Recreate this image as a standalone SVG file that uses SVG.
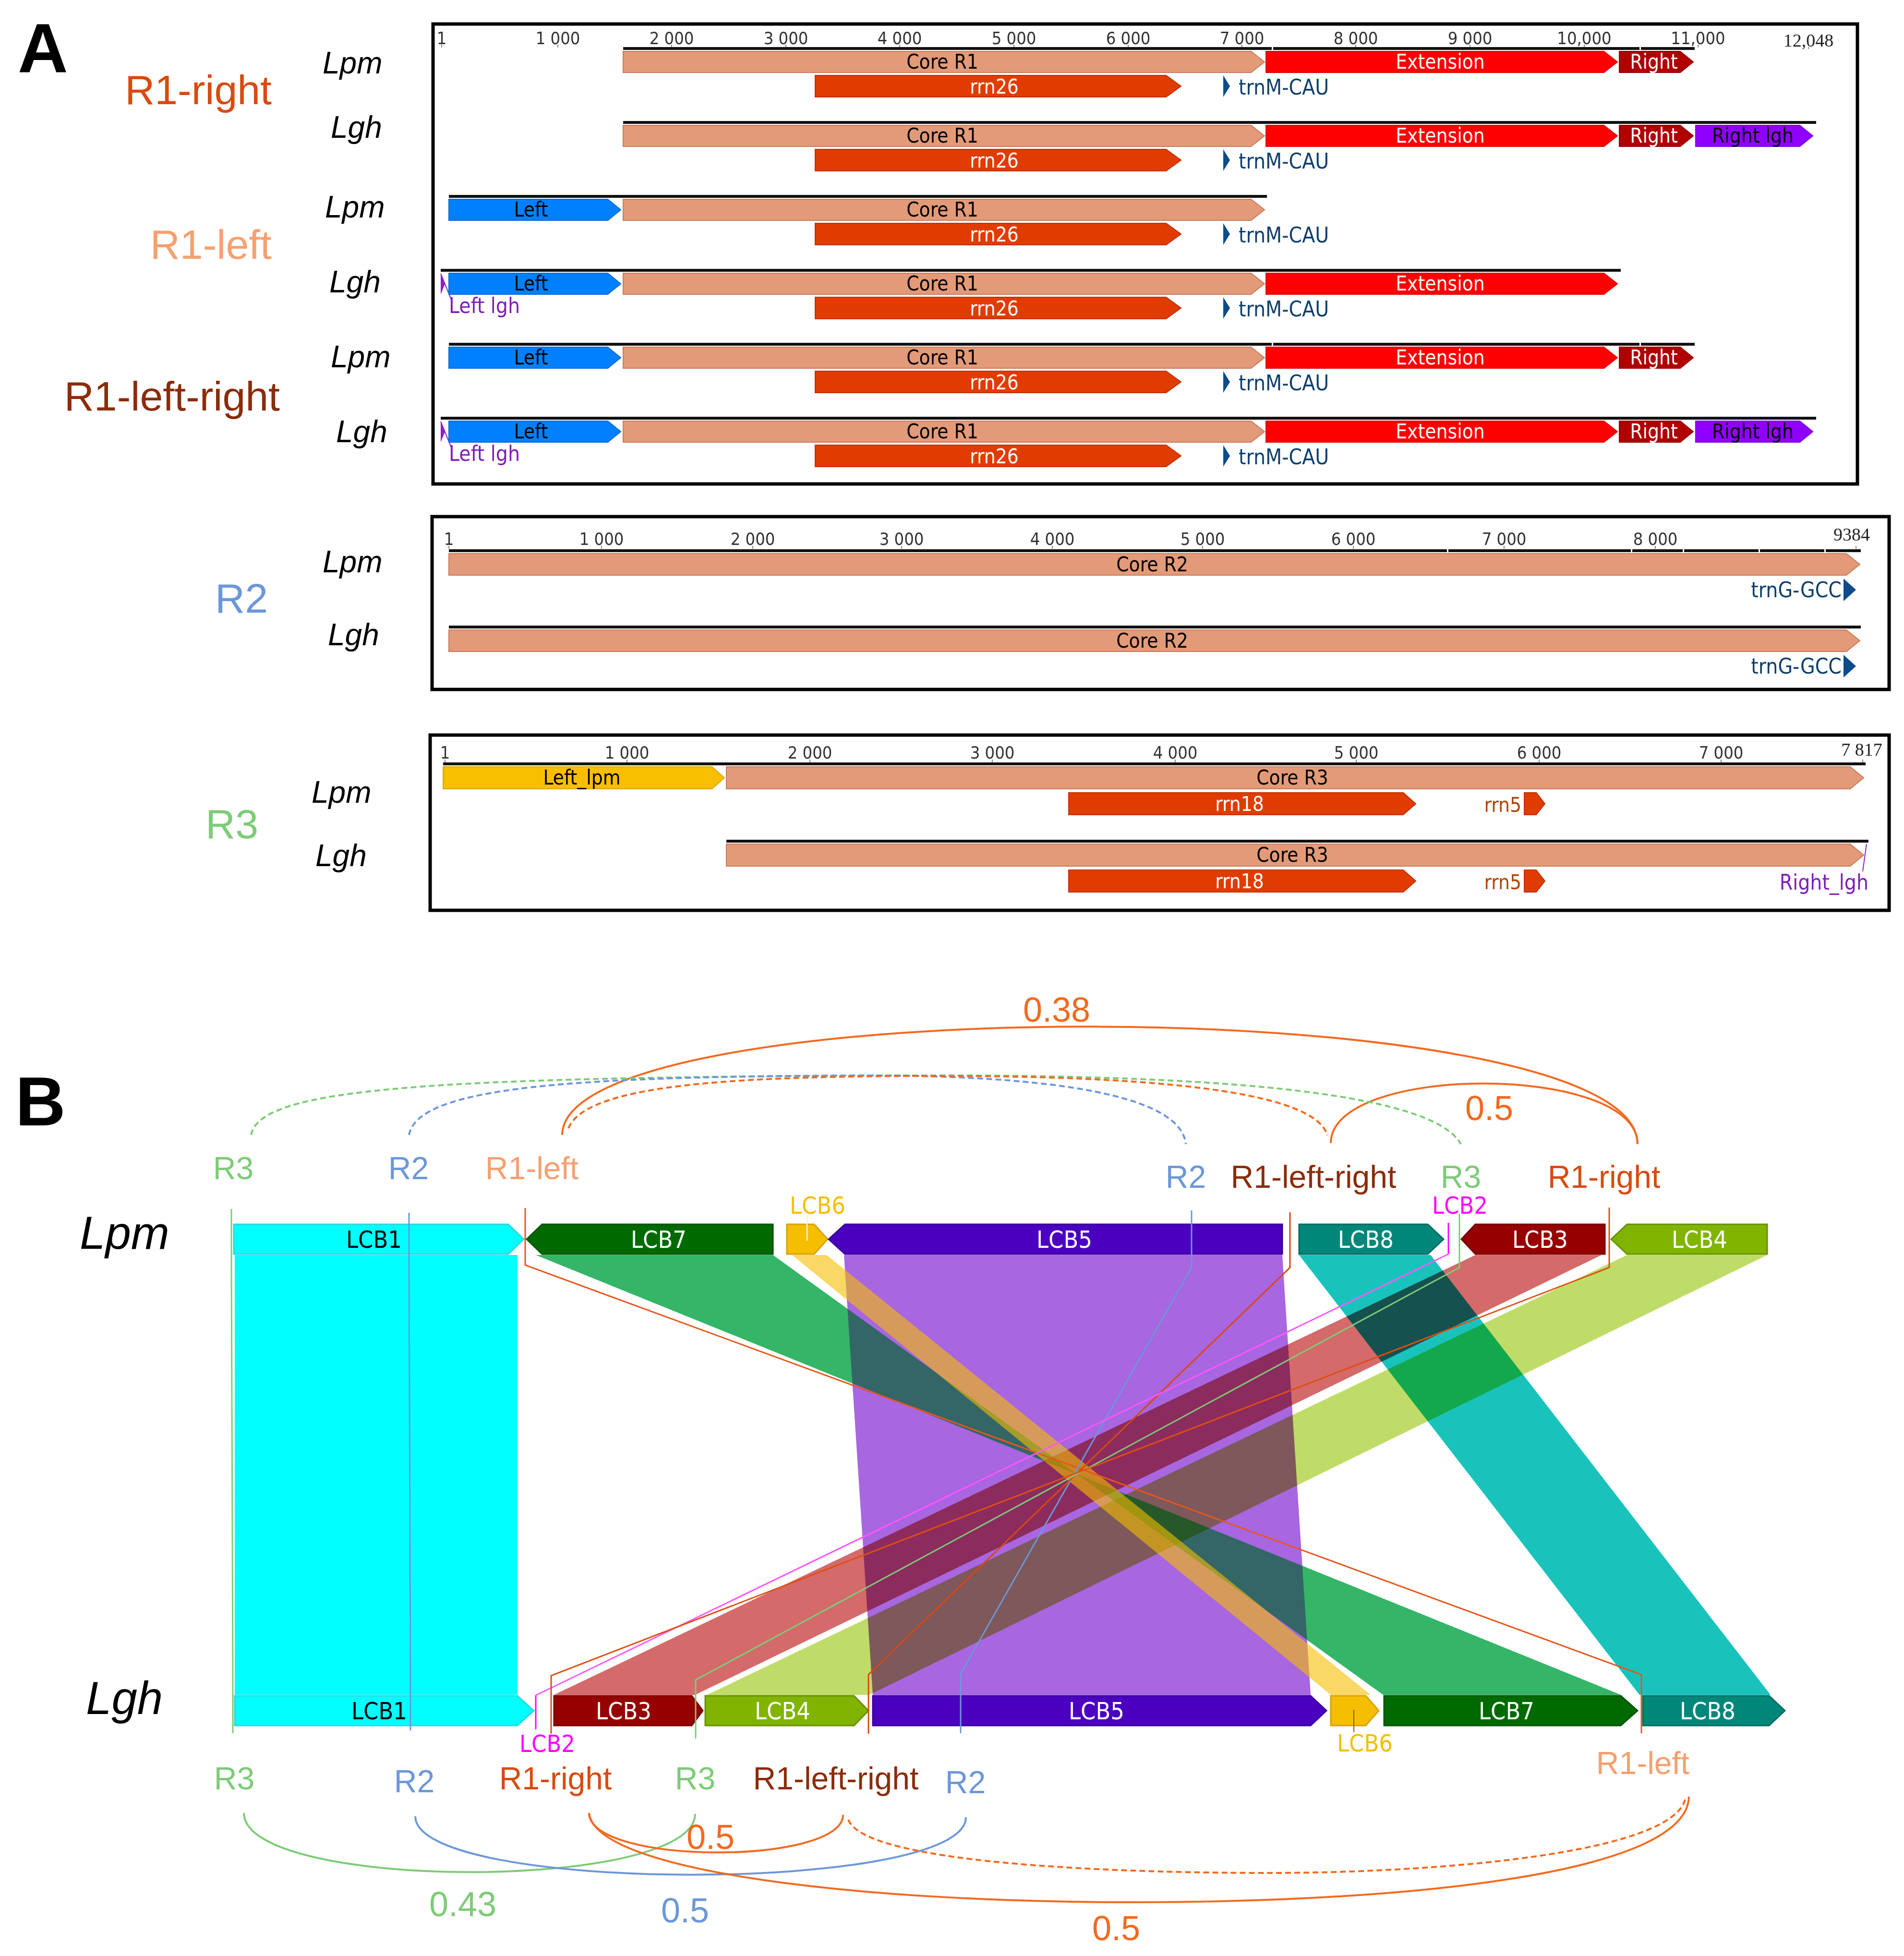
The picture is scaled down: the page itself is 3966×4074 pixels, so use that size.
<svg xmlns="http://www.w3.org/2000/svg" width="3966" height="4074" viewBox="0 0 3966 4074">
<style>
.box{fill:none;stroke:#000;stroke-width:7}
.trk{stroke:#111;stroke-width:6;fill:none}
.rul{font-family:"DejaVu Sans Condensed","DejaVu Sans",sans-serif;font-stretch:condensed;font-size:36px;fill:#333;text-anchor:middle}
.tick{stroke:#888;stroke-width:2}
.fl{font-family:"DejaVu Sans Condensed","DejaVu Sans",sans-serif;font-stretch:condensed;font-size:42px;text-anchor:middle}
.w{fill:#fff}.k{fill:#000}
.core{fill:#E39A78;stroke:#C77A5A;stroke-width:2}
.rrn{fill:#E03C00;stroke:#C23000;stroke-width:2}
.ext{fill:#FF0000;stroke:#E00000;stroke-width:2}
.rgt{fill:#B00000;stroke:#960000;stroke-width:2}
.rlg{fill:#9000FF;stroke:#7A00DD;stroke-width:2}
.lft{fill:#0080FF;stroke:#0068D8;stroke-width:2}
.llpm{fill:#F8BF00;stroke:#D9A400;stroke-width:2}
.trna{fill:#0D4B8A}
.trnt{font-family:"DejaVu Sans Condensed","DejaVu Sans",sans-serif;font-stretch:condensed;font-size:44px;fill:#0D3F6E}
.pur{font-family:"DejaVu Sans Condensed","DejaVu Sans",sans-serif;font-stretch:condensed;font-size:44px;fill:#7F1FB5}
.sp{font-family:"Liberation Sans",Arial,sans-serif;font-style:italic;font-size:64px;fill:#000}
.spb{font-family:"Liberation Sans",Arial,sans-serif;font-style:italic;font-size:96px;fill:#000}
.reg{font-family:"Liberation Sans",Arial,sans-serif;font-size:86px}
.big{font-family:"Liberation Sans",Arial,sans-serif;font-weight:bold;font-size:145px;fill:#000}
.lb{font-family:"Liberation Sans",Arial,sans-serif;font-size:66px;text-anchor:middle}
.num{font-family:"Liberation Sans",Arial,sans-serif;font-size:72px;text-anchor:middle}
.lcb{font-family:"DejaVu Sans Condensed","DejaVu Sans",sans-serif;font-stretch:condensed;font-size:50px;text-anchor:middle}
.band{mix-blend-mode:multiply}
.bandd{mix-blend-mode:darken}
.cR1r{fill:#D84B0F}.cR1l{fill:#F6A070}.cR1lr{fill:#8B2C0A}.cR2{fill:#6C97DA}.cR3{fill:#7ECB78}.cOr{fill:#F26A1F}.cMag{fill:#FF00FF}.cY{fill:#F5BE00}
.arc{fill:none;stroke-width:4}
.dash{stroke-dasharray:12 7}
.con{fill:none;stroke-width:3}
</style>

<!-- ================= PANEL A ================= -->
<g id="panelA-labels">
<text class="big" x="37" y="150">A</text>
<text class="reg cR1r" x="566" y="217" text-anchor="end">R1-right</text>
<text class="reg cR1l" x="566" y="539" text-anchor="end">R1-left</text>
<text class="reg cR1lr" x="583" y="855" text-anchor="end">R1-left-right</text>
<text class="reg cR2" x="503" y="1276" text-anchor="middle" font-size="80">R2</text>
<text class="reg cR3" x="483" y="1746" text-anchor="middle" font-size="80">R3</text>
<text class="sp" x="672" y="153">Lpm</text>
<text class="sp" x="689" y="287">Lgh</text>
<text class="sp" x="677" y="453">Lpm</text>
<text class="sp" x="686" y="609">Lgh</text>
<text class="sp" x="689" y="765">Lpm</text>
<text class="sp" x="700" y="921">Lgh</text>
<text class="sp" x="672" y="1192">Lpm</text>
<text class="sp" x="683" y="1344">Lgh</text>
<text class="sp" x="649" y="1672">Lpm</text>
<text class="sp" x="657" y="1804">Lgh</text>
</g>

<!-- R1 box -->
<g id="boxR1">
<rect class="box" x="902" y="50" width="2967" height="958"/>
<g id="rulerR1">
<text class="rul" x="920" y="92">1</text>
<text class="rul" x="1162" y="92">1 000</text>
<text class="rul" x="1399" y="92">2 000</text>
<text class="rul" x="1637" y="92">3 000</text>
<text class="rul" x="1874" y="92">4 000</text>
<text class="rul" x="2112" y="92">5 000</text>
<text class="rul" x="2350" y="92">6 000</text>
<text class="rul" x="2587" y="92">7 000</text>
<text class="rul" x="2824" y="92">8 000</text>
<text class="rul" x="3062" y="92">9 000</text>
<text class="rul" x="3300" y="92">10,000</text>
<text class="rul" x="3537" y="92">11,000</text>
<text x="3767" y="97" font-family="Liberation Serif,serif" font-size="38" fill="#222" text-anchor="middle">12,048</text>
<path class="tick" d="M920,93v6M1162,93v6M1399,93v6M1637,93v6M1874,93v6M2112,93v6M2350,93v6M2587,93v6M2824,93v6M3062,93v6M3300,93v6M3537,93v6M3767,98v4"/>
</g>
<!-- track lines -->
<line class="trk" x1="1298" y1="101" x2="3530" y2="101"/>
<line class="trk" x1="1298" y1="255" x2="3783" y2="255"/>
<line class="trk" x1="935" y1="409" x2="2639" y2="409"/>
<line class="trk" x1="918" y1="563" x2="3376" y2="563"/>
<line class="trk" x1="935" y1="717" x2="3530" y2="717"/>
<line class="trk" x1="918" y1="871" x2="3783" y2="871"/>
<g fill="#fff"><rect x="2649" y="96" width="3" height="10"/><rect x="3415" y="96" width="3" height="10"/><rect x="2649" y="712" width="3" height="10"/><rect x="3415" y="712" width="3" height="10"/></g>

<!-- Track 1: Lpm R1-right -->
<g id="t1">
<polygon class="core" points="1298,107 2606,107 2634,129 2606,151 1298,151"/>
<text class="fl k" x="1963" y="143">Core R1</text>
<polygon class="ext" points="2637,107 3341,107 3369,129 3341,151 2637,151"/>
<text class="fl w" x="3000" y="143">Extension</text>
<polygon class="rgt" points="3373,107 3500,107 3527,129 3500,151 3373,151"/>
<text class="fl w" x="3445" y="143">Right</text>
<polygon class="rrn" points="1698,157 2429,157 2460,179.5 2429,202 1698,202"/>
<text class="fl w" x="2071" y="195">rrn26</text>
<polygon class="trna" points="2548,157 2562,179.5 2548,202"/>
<text class="trnt" x="2580" y="197">trnM-CAU</text>
</g>
<!-- Track 2: Lgh R1-right -->
<g id="t2">
<polygon class="core" points="1298,261 2606,261 2634,283 2606,305 1298,305"/>
<text class="fl k" x="1963" y="297">Core R1</text>
<polygon class="ext" points="2637,261 3341,261 3369,283 3341,305 2637,305"/>
<text class="fl w" x="3000" y="297">Extension</text>
<polygon class="rgt" points="3373,261 3500,261 3527,283 3500,305 3373,305"/>
<text class="fl w" x="3445" y="297">Right</text>
<polygon class="rlg" points="3532,261 3749,261 3776,283 3749,305 3532,305"/>
<text class="fl k" x="3651" y="297">Right lgh</text>
<polygon class="rrn" points="1698,311 2429,311 2460,333.5 2429,356 1698,356"/>
<text class="fl w" x="2071" y="349">rrn26</text>
<polygon class="trna" points="2548,311 2562,333.5 2548,356"/>
<text class="trnt" x="2580" y="351">trnM-CAU</text>
</g>
<!-- Track 3: Lpm R1-left -->
<g id="t3">
<polygon class="lft" points="935,415 1266,415 1293,437 1266,459 935,459"/>
<text class="fl k" x="1106" y="451">Left</text>
<polygon class="core" points="1298,415 2606,415 2634,437 2606,459 1298,459"/>
<text class="fl k" x="1963" y="451">Core R1</text>
<polygon class="rrn" points="1698,465 2429,465 2460,487.5 2429,510 1698,510"/>
<text class="fl w" x="2071" y="503">rrn26</text>
<polygon class="trna" points="2548,465 2562,487.5 2548,510"/>
<text class="trnt" x="2580" y="505">trnM-CAU</text>
</g>
<!-- Track 4: Lgh R1-left -->
<g id="t4">
<polygon fill="#8A1FD0" points="918,569 927,591 918,613"/>
<line x1="918" y1="570" x2="940" y2="624" stroke="#8A1FD0" stroke-width="2"/>
<text class="pur" x="935" y="652">Left lgh</text>
<polygon class="lft" points="935,569 1266,569 1293,591 1266,613 935,613"/>
<text class="fl k" x="1106" y="605">Left</text>
<polygon class="core" points="1298,569 2606,569 2634,591 2606,613 1298,613"/>
<text class="fl k" x="1963" y="605">Core R1</text>
<polygon class="ext" points="2637,569 3341,569 3369,591 3341,613 2637,613"/>
<text class="fl w" x="3000" y="605">Extension</text>
<polygon class="rrn" points="1698,619 2429,619 2460,641.5 2429,664 1698,664"/>
<text class="fl w" x="2071" y="657">rrn26</text>
<polygon class="trna" points="2548,619 2562,641.5 2548,664"/>
<text class="trnt" x="2580" y="659">trnM-CAU</text>
</g>
<!-- Track 5: Lpm R1-left-right -->
<g id="t5">
<polygon class="lft" points="935,723 1266,723 1293,745 1266,767 935,767"/>
<text class="fl k" x="1106" y="759">Left</text>
<polygon class="core" points="1298,723 2606,723 2634,745 2606,767 1298,767"/>
<text class="fl k" x="1963" y="759">Core R1</text>
<polygon class="ext" points="2637,723 3341,723 3369,745 3341,767 2637,767"/>
<text class="fl w" x="3000" y="759">Extension</text>
<polygon class="rgt" points="3373,723 3500,723 3527,745 3500,767 3373,767"/>
<text class="fl w" x="3445" y="759">Right</text>
<polygon class="rrn" points="1698,773 2429,773 2460,795.5 2429,818 1698,818"/>
<text class="fl w" x="2071" y="811">rrn26</text>
<polygon class="trna" points="2548,773 2562,795.5 2548,818"/>
<text class="trnt" x="2580" y="813">trnM-CAU</text>
</g>
<!-- Track 6: Lgh R1-left-right -->
<g id="t6">
<polygon fill="#8A1FD0" points="918,877 927,899 918,921"/>
<line x1="918" y1="878" x2="940" y2="932" stroke="#8A1FD0" stroke-width="2"/>
<text class="pur" x="935" y="960">Left lgh</text>
<polygon class="lft" points="935,877 1266,877 1293,899 1266,921 935,921"/>
<text class="fl k" x="1106" y="913">Left</text>
<polygon class="core" points="1298,877 2606,877 2634,899 2606,921 1298,921"/>
<text class="fl k" x="1963" y="913">Core R1</text>
<polygon class="ext" points="2637,877 3341,877 3369,899 3341,921 2637,921"/>
<text class="fl w" x="3000" y="913">Extension</text>
<polygon class="rgt" points="3373,877 3500,877 3527,899 3500,921 3373,921"/>
<text class="fl w" x="3445" y="913">Right</text>
<polygon class="rlg" points="3532,877 3749,877 3776,899 3749,921 3532,921"/>
<text class="fl k" x="3651" y="913">Right lgh</text>
<polygon class="rrn" points="1698,927 2429,927 2460,949.5 2429,972 1698,972"/>
<text class="fl w" x="2071" y="965">rrn26</text>
<polygon class="trna" points="2548,927 2562,949.5 2548,972"/>
<text class="trnt" x="2580" y="967">trnM-CAU</text>
</g>
</g>

<!-- R2 box -->
<g id="boxR2">
<rect class="box" x="900" y="1076" width="3035" height="360"/>
<text class="rul" x="935" y="1135">1</text>
<text class="rul" x="1253" y="1135">1 000</text>
<text class="rul" x="1568" y="1135">2 000</text>
<text class="rul" x="1878" y="1135">3 000</text>
<text class="rul" x="2192" y="1135">4 000</text>
<text class="rul" x="2505" y="1135">5 000</text>
<text class="rul" x="2819" y="1135">6 000</text>
<text class="rul" x="3133" y="1135">7 000</text>
<text class="rul" x="3448" y="1135">8 000</text>
<text x="3857" y="1126" font-family="Liberation Serif,serif" font-size="38" fill="#222" text-anchor="middle">9384</text>
<path class="tick" d="M935,1137v6M1253,1137v6M1568,1137v6M1878,1137v6M2192,1137v6M2505,1137v6M2819,1137v6M3133,1137v6M3448,1137v6M3866,1137v6"/>
<line class="trk" x1="935" y1="1147" x2="3876" y2="1147"/>
<g fill="#fff"><rect x="3014" y="1142" width="3" height="10"/><rect x="3397" y="1142" width="3" height="10"/><rect x="3505" y="1142" width="3" height="10"/><rect x="3663" y="1142" width="3" height="10"/><rect x="3800" y="1142" width="3" height="10"/></g>
<line class="trk" x1="935" y1="1306" x2="3876" y2="1306"/>
<polygon class="core" points="935,1153 3846,1153 3874,1175.5 3846,1198 935,1198"/>
<text class="fl k" x="2400" y="1190">Core R2</text>
<polygon class="trna" points="3840,1205 3866,1228.5 3840,1252"/>
<text class="trnt" x="3836" y="1244" text-anchor="end">trnG-GCC</text>
<polygon class="core" points="935,1312 3846,1312 3874,1334.5 3846,1357 935,1357"/>
<text class="fl k" x="2400" y="1349">Core R2</text>
<polygon class="trna" points="3840,1364 3866,1387.5 3840,1411"/>
<text class="trnt" x="3836" y="1403" text-anchor="end">trnG-GCC</text>
</g>

<!-- R3 box -->
<g id="boxR3">
<rect class="box" x="896" y="1531" width="3039" height="365"/>
<text class="rul" x="927" y="1580">1</text>
<text class="rul" x="1306" y="1580">1 000</text>
<text class="rul" x="1687" y="1580">2 000</text>
<text class="rul" x="2067" y="1580">3 000</text>
<text class="rul" x="2448" y="1580">4 000</text>
<text class="rul" x="2825" y="1580">5 000</text>
<text class="rul" x="3206" y="1580">6 000</text>
<text class="rul" x="3585" y="1580">7 000</text>
<text x="3878" y="1574" font-family="Liberation Serif,serif" font-size="38" fill="#222" text-anchor="middle">7 817</text>
<path class="tick" d="M927,1582v6M1306,1582v6M1687,1582v6M2067,1582v6M2448,1582v6M2825,1582v6M3206,1582v6M3585,1582v6M3880,1582v6"/>
<line class="trk" x1="923" y1="1591" x2="3886" y2="1591"/>
<line class="trk" x1="1513" y1="1752" x2="3892" y2="1752"/>
<polygon class="llpm" points="923,1597 1483,1597 1509,1620 1483,1643 923,1643"/>
<text class="fl k" x="1212" y="1634">Left_lpm</text>
<polygon class="core" points="1513,1597 3854,1597 3882,1620 3854,1643 1513,1643"/>
<text class="fl k" x="2692" y="1634">Core R3</text>
<polygon class="rrn" points="2226,1651 2923,1651 2949,1674 2923,1697 2226,1697"/>
<text class="fl w" x="2582" y="1689">rrn18</text>
<polygon class="rrn" points="3175,1651 3200,1651 3218,1674 3200,1697 3175,1697"/>
<text class="fl" x="3169" y="1691" style="text-anchor:end" fill="#B34306">rrn5</text>
<polygon class="core" points="1513,1758 3854,1758 3882,1781 3854,1804 1513,1804"/>
<text class="fl k" x="2692" y="1795">Core R3</text>
<polygon class="rrn" points="2226,1812 2923,1812 2949,1835 2923,1858 2226,1858"/>
<text class="fl w" x="2582" y="1850">rrn18</text>
<polygon class="rrn" points="3175,1812 3200,1812 3218,1835 3200,1858 3175,1858"/>
<text class="fl" x="3169" y="1852" style="text-anchor:end" fill="#B34306">rrn5</text>
<line x1="3888" y1="1758" x2="3880" y2="1815" stroke="#8A1FD0" stroke-width="2"/>
<text class="pur" x="3892" y="1853" text-anchor="end">Right_lgh</text>
</g>

<!-- ================= PANEL B ================= -->
<text class="big" x="32" y="2344">B</text>
<text class="spb" x="166" y="2601">Lpm</text>
<text class="spb" x="179" y="3570">Lgh</text>

<!-- bands -->
<g id="bands">
<polygon class="band" fill="#00FFFF" points="489,2614 1078,2614 1078,3530 489,3530"/>
<polygon class="band" fill="#A866E0" points="1758,2614 2671,2614 2730,3530 1818,3530"/>
<polygon class="bandd" fill="#34B567" points="1116,2614 1610,2614 2881,3530 3376,3530"/>
<polygon class="band" fill="#19C3BC" points="2706,2614 2980,2614 3688,3530 3415,3530"/>
<polygon class="band" fill="#D46A6A" points="3073,2614 3336,2614 1448,3530 1154,3530"/>
<polygon class="band" fill="#C0DC68" points="3389,2614 3681,2614 1811,3530 1473,3530"/>
<polygon fill="#F5BE00" fill-opacity="0.6" points="1650,2614 1722,2614 2855,3530 2772,3530"/>
</g>

<!-- Lpm blocks -->
<g id="lpm-blocks">
<g id="lpm-LCB1"><polygon fill="#00FFFF" stroke="#33D6D6" stroke-width="3" points="487,2550 1059,2550 1091,2581 1059,2612 487,2612"/><text class="lcb k" x="779" y="2599">LCB1</text></g>
<g id="lpm-LCB7"><polygon fill="#006A00" stroke="#005500" stroke-width="3" points="1097,2581 1129,2550 1610,2550 1610,2612 1129,2612"/><text class="lcb w" x="1372" y="2599">LCB7</text></g>
<g id="lpm-LCB6"><polygon fill="#F5BE00" stroke="#D9A000" stroke-width="3" points="1639,2550 1696,2550 1724,2581 1696,2612 1639,2612"/><line x1="1681" y1="2532" x2="1681" y2="2584" stroke="#FFF4C0" stroke-width="3"/><text class="lcb cY" x="1703" y="2528">LCB6</text></g>
<g id="lpm-LCB5"><polygon fill="#4B00C0" stroke="#3A0098" stroke-width="3" points="1726,2581 1760,2550 2671,2550 2671,2612 1760,2612"/><text class="lcb w" x="2217" y="2599">LCB5</text></g>
<g id="lpm-LCB8"><polygon fill="#00877A" stroke="#006B60" stroke-width="3" points="2706,2550 2974,2550 3007,2581 2974,2612 2706,2612"/><text class="lcb w" x="2845" y="2599">LCB8</text></g>
<g id="lpm-LCB2"><line x1="3017" y1="2547" x2="3017" y2="2612" stroke="#FF00FF" stroke-width="3"/><text class="lcb cMag" x="3041" y="2528">LCB2</text></g>
<g id="lpm-LCB3"><polygon fill="#960000" stroke="#7A0000" stroke-width="3" points="3044,2581 3073,2550 3343,2550 3343,2612 3073,2612"/><text class="lcb w" x="3208" y="2599">LCB3</text></g>
<g id="lpm-LCB4"><polygon fill="#80B400" stroke="#669000" stroke-width="3" points="3356,2581 3389,2550 3681,2550 3681,2612 3389,2612"/><text class="lcb w" x="3540" y="2599">LCB4</text></g>
</g>

<!-- Lgh blocks -->
<g id="lgh-blocks">
<g id="lgh-LCB1"><polygon fill="#00FFFF" stroke="#33D6D6" stroke-width="3" points="489,3532 1078,3532 1112,3563 1078,3594 489,3594"/><text class="lcb k" x="790" y="3581">LCB1</text></g>
<g id="lgh-LCB2"><line x1="1116" y1="3531" x2="1116" y2="3602" stroke="#FF00FF" stroke-width="3"/><text class="lcb cMag" x="1140" y="3649">LCB2</text></g>
<g id="lgh-LCB3"><polygon fill="#960000" stroke="#7A0000" stroke-width="3" points="1154,3532 1441,3532 1464,3563 1441,3594 1154,3594"/><text class="lcb w" x="1299" y="3581">LCB3</text></g>
<g id="lgh-LCB4"><polygon fill="#80B400" stroke="#669000" stroke-width="3" points="1469,3532 1779,3532 1809,3563 1779,3594 1469,3594"/><text class="lcb w" x="1630" y="3581">LCB4</text></g>
<g id="lgh-LCB5"><polygon fill="#4B00C0" stroke="#3A0098" stroke-width="3" points="1818,3532 2730,3532 2763,3563 2730,3594 1818,3594"/><text class="lcb w" x="2284" y="3581">LCB5</text></g>
<g id="lgh-LCB6"><polygon fill="#F5BE00" stroke="#D9A000" stroke-width="3" points="2772,3532 2845,3532 2872,3563 2845,3594 2772,3594"/><line x1="2820" y1="3561" x2="2820" y2="3608" stroke="#7A6000" stroke-width="2"/><text class="lcb cY" x="2843" y="3648">LCB6</text></g>
<g id="lgh-LCB7"><polygon fill="#006A00" stroke="#005500" stroke-width="3" points="2883,3532 3376,3532 3411,3563 3376,3594 2883,3594"/><text class="lcb w" x="3138" y="3581">LCB7</text></g>
<g id="lgh-LCB8"><polygon fill="#00877A" stroke="#006B60" stroke-width="3" points="3422,3532 3685,3532 3718,3563 3685,3594 3422,3594"/><text class="lcb w" x="3557" y="3581">LCB8</text></g>
</g>

<!-- connectors (repeat positions) -->
<g id="connectors">
<polyline class="con" stroke="#7ECB78" points="482,2518 482,2640 485,3488 485,3610"/>
<polyline class="con" stroke="#6C97DA" points="852,2526 852,2640 855,3488 855,3604"/>
<polyline class="con" stroke="#E8561C" points="1094,2516 1094,2635 3419,3488 3419,3610"/>
<polyline class="con" stroke="#6C97DA" points="2482,2521 2482,2640 2001,3486 2001,3610"/>
<polyline class="con" stroke="#D9480F" points="2687,2525 2687,2640 1809,3488 1809,3611"/>
<polyline class="con" stroke="#FF55FF" stroke-width="2" points="3017,2612 1116,3531"/>
<polyline class="con" stroke="#7ECB78" points="3040,2528 3040,2640 1449,3499 1449,3621"/>
<polyline class="con" stroke="#E04E12" points="3352,2515 3352,2640 1148,3490 1148,3611"/>
</g>

<!-- region labels B -->
<g id="labelsB">
<text class="lb cR3" x="486" y="2456">R3</text>
<text class="lb cR2" x="851" y="2456">R2</text>
<text class="lb cR1l" x="1108" y="2456">R1-left</text>
<text class="lb cR2" x="2470" y="2474">R2</text>
<text class="lb cR1lr" x="2736" y="2474">R1-left-right</text>
<text class="lb cR3" x="3043" y="2474">R3</text>
<text class="lb cR1r" x="3341" y="2474">R1-right</text>
<text class="lb cR3" x="488" y="3727">R3</text>
<text class="lb cR2" x="863" y="3733">R2</text>
<text class="lb cR1r" x="1157" y="3727">R1-right</text>
<text class="lb cR3" x="1448" y="3727">R3</text>
<text class="lb cR1lr" x="1741" y="3727">R1-left-right</text>
<text class="lb cR2" x="2011" y="3735">R2</text>
<text class="lb cR1l" x="3422" y="3695">R1-left</text>
</g>

<!-- arcs -->
<g id="arcs">
<path class="arc" stroke="#F26A1F" d="M1171,2364 C1171,2060 3411,2060 3411,2383"/>
<path class="arc" stroke="#F26A1F" d="M2772,2381 C2772,2215 3411,2215 3411,2383"/>
<path class="arc dash" stroke="#7ECB78" d="M523,2364 C540,2265 900,2243 1900,2240 C2500,2238 2980,2270 3043,2383"/>
<path class="arc dash" stroke="#6C97DA" d="M852,2364 C870,2262 1200,2242 1800,2240 C2200,2240 2460,2282 2470,2383"/>
<path class="arc dash" stroke="#F26A1F" d="M1184,2350 C1220,2262 1500,2241 1950,2241 C2400,2241 2740,2272 2765,2365"/>
<path class="arc" stroke="#7ECB78" d="M508,3776 C508,3940 1448,3940 1448,3778"/>
<path class="arc" stroke="#6C97DA" d="M865,3783 C865,3945 2012,3945 2012,3785"/>
<path class="arc" stroke="#F26A1F" d="M1227,3776 C1227,3885 1756,3885 1756,3780"/>
<path class="arc" stroke="#F26A1F" d="M1227,3776 C1240,3900 1800,3962 2361,3962 C2950,3962 3515,3900 3518,3742"/>
<path class="arc dash" stroke="#F26A1F" d="M1767,3790 C1800,3880 2300,3901 2640,3901 C3000,3901 3480,3860 3510,3748"/>
<text class="num cOr" x="2201" y="2128">0.38</text>
<text class="num cOr" x="3102" y="2333">0.5</text>
<text class="num cR3" x="964" y="3991">0.43</text>
<text class="num cR2" x="1427" y="4004">0.5</text>
<text class="num cOr" x="1480" y="3851">0.5</text>
<text class="num cOr" x="2325" y="4041">0.5</text>
</g>
</svg>
